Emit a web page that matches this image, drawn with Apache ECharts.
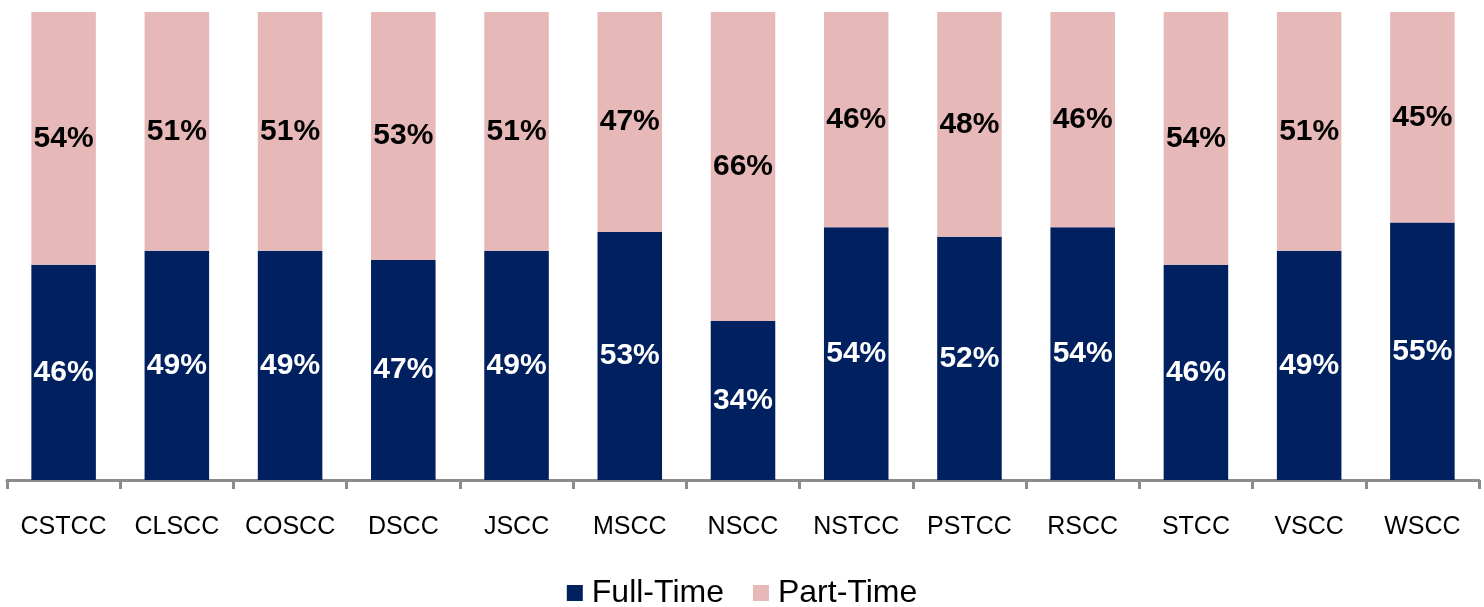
<!DOCTYPE html>
<html><head><meta charset="utf-8">
<script src="https://cdn.jsdelivr.net/npm/echarts@6/dist/echarts.min.js"></script>
<style>html,body{margin:0;padding:0;background:#fff}#c{width:1484px;height:607px}</style>
</head><body><div id="c"></div>
<script>
const categories = ['CSTCC','CLSCC','COSCC','DSCC','JSCC','MSCC','NSCC','NSTCC','PSTCC','RSCC','STCC','VSCC','WSCC'];
const fullTime = [46,49,49,47,49,53,34,54,52,54,46,49,55];
const partTime = [54,51,51,53,51,47,66,46,48,46,54,51,45];
const seriesNames = ['Full-Time','Part-Time'];

const chart = echarts.init(document.getElementById('c'), null, {renderer:'canvas'});
const ff = '"Liberation Sans", Arial, sans-serif';
chart.setOption({
  animation:false,
  grid:{left:7,right:5,top:12,bottom:127,containLabel:false},
  legend:{
    data:seriesNames, top:572, left:'center', itemWidth:16, itemHeight:16, itemGap:29,
    icon:'rect',
    textStyle:{fontFamily:ff,fontSize:32,color:'#000',padding:[0,0,0,4]}
  },
  xAxis:{
    type:'category', data:categories, boundaryGap:true,
    axisLine:{lineStyle:{color:'#8c8c8c',width:3}},
    axisTick:{show:true,length:9,lineStyle:{color:'#8c8c8c',width:3}},
    axisLabel:{fontFamily:ff,fontSize:25,color:'#000',margin:35,interval:0}
  },
  yAxis:{type:'value',min:0,max:100,show:false,splitLine:{show:false}},
  series:[
    {name:'Full-Time',type:'bar',stack:'t',data:fullTime,barWidth:'57%',
     itemStyle:{color:'#002060'},
     label:{show:true,position:'inside',formatter:'{c}%',color:'#fff',fontFamily:ff,fontWeight:'bold',fontSize:30}},
    {name:'Part-Time',type:'bar',stack:'t',data:partTime,barWidth:'57%',
     itemStyle:{color:'#E6B9B8'},
     label:{show:true,position:'inside',formatter:'{c}%',color:'#000',fontFamily:ff,fontWeight:'bold',fontSize:30}}
  ]
});
</script></body></html>
